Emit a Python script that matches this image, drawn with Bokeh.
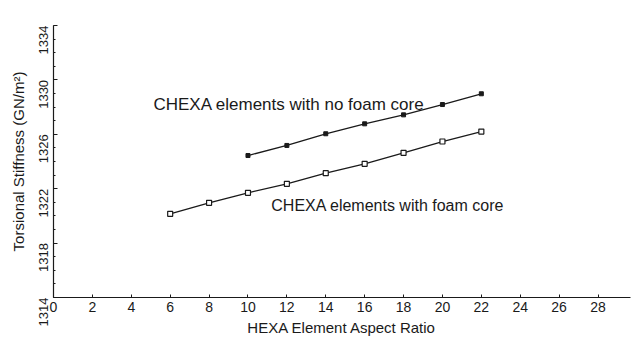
import math
from bokeh.plotting import figure
from bokeh.models import Label, FixedTicker, Range1d
from bokeh.embed import file_html
from bokeh.resources import INLINE

# Data
aspect_no_foam = [10, 12, 14, 16, 18, 20, 22]
stiff_no_foam = [1324.44, 1325.18, 1326.04, 1326.77, 1327.43, 1328.19, 1328.98]
aspect_foam = [6, 8, 10, 12, 14, 16, 18, 20, 22]
stiff_foam = [1320.15, 1320.96, 1321.70, 1322.36, 1323.14, 1323.83, 1324.64, 1325.47, 1326.20]
x_ticks = [0, 2, 4, 6, 8, 10, 12, 14, 16, 18, 20, 22, 24, 26, 28]
y_ticks = [1314, 1318, 1322, 1326, 1330, 1334]
y_minor_ticks = list(range(1314, 1335))
label_no_foam = "CHEXA elements with no foam core"
label_foam = "CHEXA elements with foam core"
x_title = "HEXA Element Aspect Ratio"
y_title = "Torsional Stiffness (GN/m\u00b2)"

FONT = "Liberation Sans"
INK = "#1a1a1a"

p = figure(width=633, height=357, output_backend="svg", toolbar_location=None,
           x_range=Range1d(0, 29.67), y_range=Range1d(1314, 1334),
           min_border_left=53, min_border_right=3, min_border_top=25, min_border_bottom=60)
p.outline_line_color = None
p.grid.visible = False
p.background_fill_color = "white"
p.border_fill_color = "white"

# x axis
p.xaxis.ticker = FixedTicker(ticks=x_ticks)
p.xaxis.axis_label = x_title
p.xaxis.axis_label_text_font = FONT
p.xaxis.axis_label_text_font_style = "normal"
p.xaxis.axis_label_text_font_size = "15px"
p.xaxis.axis_label_text_color = INK
p.xaxis.axis_label_standoff = 4
p.xaxis.major_label_text_font = FONT
p.xaxis.major_label_text_font_size = "14px"
p.xaxis.major_label_text_color = INK
p.xaxis.major_label_standoff = 4
p.xaxis.major_tick_in = 3
p.xaxis.major_tick_out = 0
p.xaxis.axis_line_color = INK
p.xaxis.major_tick_line_color = INK
p.xaxis.axis_line_width = 1.2

# y axis
p.yaxis.ticker = FixedTicker(ticks=y_ticks, minor_ticks=y_minor_ticks)
p.yaxis.axis_label = y_title
p.yaxis.axis_label_text_font = FONT
p.yaxis.axis_label_text_font_style = "normal"
p.yaxis.axis_label_text_font_size = "15px"
p.yaxis.axis_label_text_color = INK
p.yaxis.axis_label_standoff = 5
p.yaxis.major_label_text_font = FONT
p.yaxis.major_label_text_font_size = "13px"
p.yaxis.major_label_text_color = INK
p.yaxis.major_label_orientation = math.pi / 2
p.yaxis.major_label_standoff = 10
p.yaxis.major_tick_in = 4
p.yaxis.major_tick_out = 0
p.yaxis.minor_tick_in = 2
p.yaxis.minor_tick_out = 0
p.yaxis.axis_line_color = INK
p.yaxis.major_tick_line_color = INK
p.yaxis.minor_tick_line_color = INK
p.yaxis.axis_line_width = 1.2

# series
p.line(aspect_no_foam, stiff_no_foam, line_color=INK, line_width=1.3)
p.scatter(aspect_no_foam, stiff_no_foam, marker="square", size=4,
          fill_color=INK, line_color=INK)
p.line(aspect_foam, stiff_foam, line_color=INK, line_width=1.3)
p.scatter(aspect_foam, stiff_foam, marker="square", size=5,
          fill_color="white", line_color=INK, line_width=1.2)

# annotations
p.add_layout(Label(x=5.14, y=1328.2, text=label_no_foam, text_font=FONT,
                   text_font_size="17px", text_color=INK, text_baseline="middle"))
p.add_layout(Label(x=11.2, y=1320.76, text=label_foam, text_font=FONT,
                   text_font_size="16px", text_color=INK, text_baseline="middle"))

open("out.html", "w").write(file_html(p, INLINE))
